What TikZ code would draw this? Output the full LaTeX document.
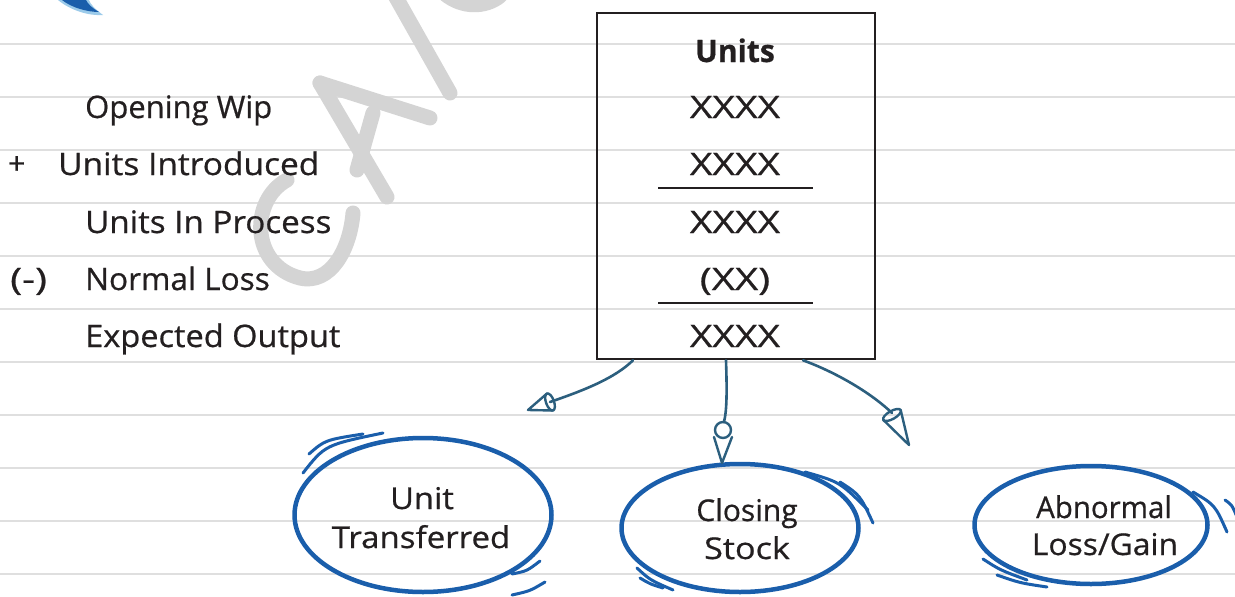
\documentclass[tikz,border=0pt]{standalone}
\usepackage{graphicx}
\usepackage{fontspec}
\setmainfont[FakeBold=0.6]{Open Sans}
\usetikzlibrary{shapes.geometric}
\definecolor{ruleclr}{HTML}{DFDFDF}
\definecolor{wmark}{HTML}{D4D4D4}
\definecolor{inkclr}{HTML}{231F20}
\definecolor{ringclr}{HTML}{1A5EAB}
\definecolor{arrclr}{HTML}{2C5F7E}
\definecolor{paleblue}{HTML}{9CCBEA}
% horizontal stretch of a label
\newcommand{\widen}[2]{\scalebox{#1}[1]{#2}}
\tikzset{
  ruleline/.style={ruleclr, line width=1.6pt},
  wmstroke/.style={wmark, line width=15pt, line cap=round, line join=round},
  lbl/.style={inkclr, inner sep=0pt, font=\fontsize{31}{37}\selectfont},
  ringlbl/.style={inkclr, inner sep=0pt, font=\fontsize{30}{37}\selectfont},
  ring/.style={ellipse, draw=ringclr, line width=4.5pt, inner sep=0pt},
  swoosh/.style={ringclr, line width=3pt, line cap=round},
  flow/.style={arrclr, line width=2.6pt, line cap=round},
  conetip/.style={arrclr, line width=2.4pt, line join=round, line cap=round},
}
\begin{document}
\begin{tikzpicture}[x=1pt, y=-1pt]
\useasboundingbox (0,0) rectangle (1235,597);
\fill[white] (0,0) rectangle (1235,597);

% ruled paper
\foreach \yy in {44,97,...,574}
  \draw[ruleline] (0,\yy) -- (1235,\yy);

% faint hand-written watermark strokes
\draw[wmstroke] (393,-8) -- (450,93);
\draw[wmstroke] (445,-6) .. controls (462,8) and (485,8) .. (500,-4);
\draw[wmstroke] (320,83) -- (430,118);
\draw[wmstroke] (320,83) -- (387,197);
\draw[wmstroke] (373,113) -- (357,170);
\draw[wmstroke] (287,180) .. controls (250,200) and (250,265) .. (300,278)
  .. controls (330,285) and (350,250) .. (353,213);

% small blue flourish at the top edge
\fill[paleblue] (58,0) .. controls (70,10) and (88,16) .. (103,15)
  .. controls (95,9) and (90,4) .. (89,0) -- cycle;
\fill[ringclr] (62,0) .. controls (72,8) and (88,12) .. (99,12)
  .. controls (92,8) and (88,4) .. (86,0) -- cycle;

% statement box
\node[draw=inkclr, line width=2.6pt, minimum width=278pt, minimum height=346pt,
      inner sep=0pt] (tbl) at (736,186) {};
\draw[inkclr, line width=1.2pt] (658,188) -- (813,188);
\draw[inkclr, line width=1.2pt] (658,303) -- (813,303);

\node[lbl, anchor=base, font=\fontsize{31}{37}\selectfont\bfseries] (hd) at (735,62) {\widen{0.97}{Units}};
\node[lbl, anchor=base] (v1) at (735,118) {\widen{1.26}{XXXX}};
\node[lbl, anchor=base] (v2) at (735,175) {\widen{1.26}{XXXX}};
\node[lbl, anchor=base] (v3) at (735,233) {\widen{1.26}{XXXX}};
\node[lbl, anchor=base] (v4) at (735,290) {\widen{1.3}{(XX)}};
\node[lbl, anchor=base] (v5) at (735,347) {\widen{1.26}{XXXX}};

% row captions
\node[lbl, anchor=base west] (r1) at (85,118) {Opening Wip};
\node[lbl, anchor=base west, font=\fontsize{30}{34}\selectfont] (plus) at (8,174) {+};
\node[lbl, anchor=base west] (r2) at (58,175) {\widen{1.08}{Units Introduced}};
\node[lbl, anchor=base west] (r3) at (85,233) {\widen{1.07}{Units In Process}};
\node[lbl, anchor=base west] (minus) at (10,290) {\widen{1.3}{(-)}};
\node[lbl, anchor=base west] (r4) at (85,290) {\widen{1.02}{Normal Loss}};
\node[lbl, anchor=base west] (r5) at (85,347) {\widen{1.05}{Expected Output}};

% outcome rings
\node[ring, minimum width=257pt, minimum height=154pt] (ut) at (423,515) {};
\node[ring, minimum width=237pt, minimum height=128pt] (cs) at (740,528) {};
\node[ring, minimum width=233pt, minimum height=118pt] (ag) at (1091,525) {};

\node[ringlbl, anchor=base] (ut1) at (422,509) {\widen{1.09}{Unit}};
\node[ringlbl, anchor=base] (ut2) at (421,548) {\widen{1.1}{Transferred}};
\node[ringlbl, anchor=base] (cs1) at (747,521) {Closing};
\node[ringlbl, anchor=base] (cs2) at (747,559) {\widen{1.14}{Stock}};
\node[ringlbl, anchor=base] (ag1) at (1104,518) {\widen{0.98}{Abnormal}};
\node[ringlbl, anchor=base] (ag2) at (1105,555) {\widen{1.06}{Loss/Gain}};

% sketchy accent strokes around the rings
\draw[swoosh] (309,454) .. controls (325,440) .. (363,434);
\draw[swoosh] (303,473) .. controls (325,445) .. (383,433);
\draw[swoosh] (512,574) .. controls (527,571) .. (540,561);
\draw[swoosh] (512,595) .. controls (530,591) .. (545,582);
\draw[swoosh] (805,472) .. controls (840,482) .. (868,510);
\draw[swoosh] (840,482) .. controls (860,495) .. (873,523);
\draw[swoosh] (637,568) .. controls (650,580) .. (673,590);
\draw[swoosh] (640,578) .. controls (650,584) .. (663,588);
\draw[swoosh] (1193,492) .. controls (1215,505) .. (1227,532);
\draw[swoosh] (1225,500) .. controls (1232,505) .. (1237,517);
\draw[swoosh] (983,559) .. controls (1000,570) .. (1027,580);
\draw[swoosh] (997,575) .. controls (1020,583) .. (1047,587);

% connectors with cone-shaped heads
\coordinate (a1) at (550,402);
\coordinate (a2) at (724,422);
\coordinate (a3) at (892,413);

\draw[flow] ([xshift=-103pt]tbl.south) .. controls (615,378) and (585,390) .. (a1);
\draw[conetip, rotate around={20:(a1)}] (a1) ellipse [x radius=4pt, y radius=9pt];
\draw[conetip] (553,410.5) -- (528,410) -- (547,393.5);

\draw[flow] ([xshift=-10pt]tbl.south) .. controls (727,390) and (727,410) .. (a2);
\draw[conetip] (723,430) circle [radius=8pt];
\draw[conetip] (714,437) -- (722,463) -- (732,437);

\draw[flow] ([xshift=67pt]tbl.south) .. controls (835,372) and (870,392) .. (a3);
\draw[conetip, rotate around={-60.5:(892,415)}] (892,415) ellipse [x radius=4pt, y radius=10pt];
\draw[conetip] (900.7,410.1) -- (909,445) -- (883.3,419.9);
\end{tikzpicture}
\end{document}
